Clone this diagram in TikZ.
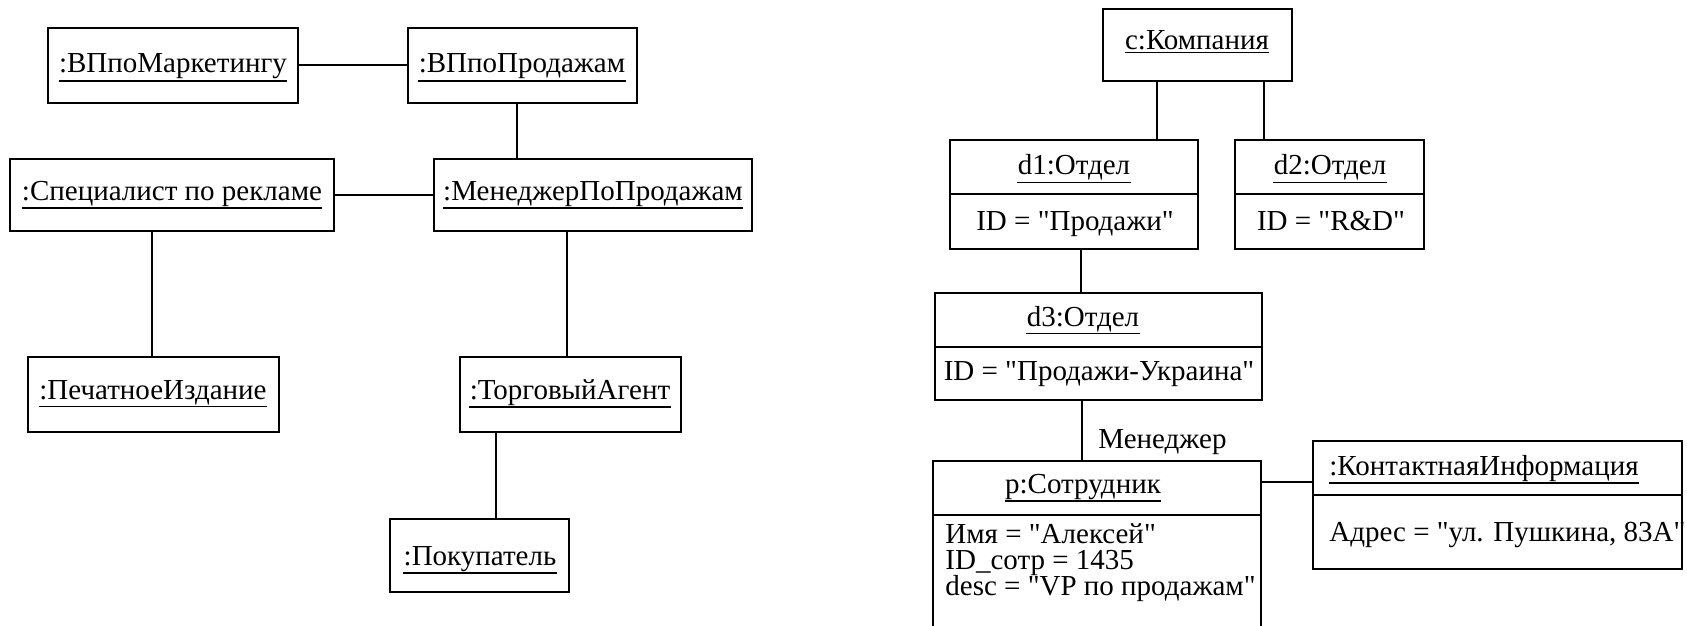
\documentclass[tikz,border=0pt]{standalone}
\usepackage{fontspec}
\setmainfont{Liberation Serif}[Ligatures=TeXOff]
\usetikzlibrary{fit}

\newcommand\objfont{\fontsize{14.5pt}{17pt}\selectfont}

\tikzset{
  obj/.style={draw, line width=1pt, inner sep=0pt},
  lbl/.style={inner sep=0pt, font=\objfont, anchor=base},
  lblw/.style={inner sep=0pt, font=\objfont, anchor=base west},
  link/.style={line width=1pt},
  uline/.style={line width=0.8pt},
}

% underlined object name: [style]{node name}{x,y}{text}
\newcommand\objtitle[4][lbl]{%
  \node[#1] (#2) at (#3) {#4};
  \draw[uline] ([yshift=-0.8pt]#2.south west) -- ([yshift=-0.8pt]#2.south east);}

\begin{document}
\begin{tikzpicture}[x=0.5pt, y=-0.5pt]
  \useasboundingbox (0,0) rectangle (1687,626);
  \fill[white] (0,0) rectangle (1687,626);
  \clip (0,0) rectangle (1687,626);

  % ---------- sales organisation ----------
  \node[obj, fit={(48,28) (298,103)}] (vpm) {};
  \objtitle{vpmT}{173,73}{:ВПпоМаркетингу}
  \node[obj, fit={(408,28) (637,103)}] (vps) {};
  \objtitle{vpsT}{522,73}{:ВПпоПродажам}
  \node[obj, fit={(10,159) (334,231)}] (spec) {};
  \objtitle{specT}{172,200}{:Специалист по рекламе}
  \node[obj, fit={(434,159) (752,231)}] (mgr) {};
  \objtitle{mgrT}{593,200}{:МенеджерПоПродажам}
  \node[obj, fit={(28,357) (279,432)}] (print) {};
  \objtitle{printT}{153,399}{:ПечатноеИздание}
  \node[obj, fit={(460,357) (681,432)}] (agent) {};
  \objtitle{agentT}{570,399}{:ТорговыйАгент}
  \node[obj, fit={(390,519) (569,592)}] (buyer) {};
  \objtitle{buyerT}{480,565}{:Покупатель}

  \coordinate (xa) at (517,0);
  \coordinate (xb) at (152,0);
  \coordinate (xc) at (567,0);
  \coordinate (xd) at (496,0);
  \draw[link] (vpm) -- (vps);
  \draw[link] (spec) -- (mgr);
  \draw[link] (vps.south -| xa) -- (mgr.north -| xa);
  \draw[link] (spec.south -| xb) -- (print.north -| xb);
  \draw[link] (mgr.south -| xc) -- (agent.north -| xc);
  \draw[link] (agent.south -| xd) -- (buyer.north -| xd);

  % ---------- company structure ----------
  \node[obj, fit={(1103,9) (1292,81)}] (comp) {};
  \objtitle{compT}{1197,50}{c:Компания}

  \node[obj, fit={(950,140) (1198,249)}] (d1) {};
  \coordinate (d1div) at (0,194);
  \draw[link] (d1.west |- d1div) -- (d1.east |- d1div);
  \objtitle{d1T}{1074,175}{d1:Отдел}
  \node[lbl] (d1A) at (1075,230) {ID = "Продажи"};

  \node[obj, fit={(1235,140) (1424,249)}] (d2) {};
  \coordinate (d2div) at (0,194);
  \draw[link] (d2.west |- d2div) -- (d2.east |- d2div);
  \objtitle{d2T}{1330,175}{d2:Отдел}
  \node[lbl] (d2A) at (1331,230) {ID = "R\&D"};

  \node[obj, fit={(935,293) (1262,400)}] (d3) {};
  \coordinate (d3div) at (0,347);
  \draw[link] (d3.west |- d3div) -- (d3.east |- d3div);
  \objtitle{d3T}{1083,326}{d3:Отдел}
  \node[lbl] (d3A) at (1099,380) {ID = "Продажи-Украина"};

  \node[obj, fit={(933,461) (1261,660)}] (emp) {};
  \coordinate (empdiv) at (0,515);
  \draw[link] (emp.west |- empdiv) -- (emp.east |- empdiv);
  \objtitle{empT}{1083,493}{p:Сотрудник}
  \node[lblw] (empA) at (945,543) {Имя = "Алексей"};
  \node[lblw] (empB) at (945,569) {ID\_сотр = 1435};
  \node[lblw] (empC) at (945,595) {desc = "VP по продажам"};

  \node[obj, fit={(1313,441) (1682,569)}] (info) {};
  \coordinate (infodiv) at (0,495);
  \draw[link] (info.west |- infodiv) -- (info.east |- infodiv);
  \objtitle[lblw]{infoT}{1329,475}{:КонтактнаяИнформация}
  \node[lblw] (infoA) at (1329,541) {Адрес = "ул. Пушкина, 83А"};

  \coordinate (xe) at (1157,0);
  \coordinate (xf) at (1264,0);
  \coordinate (xg) at (1081,0);
  \coordinate (xh) at (1082,0);
  \coordinate (yi) at (0,482);
  \draw[link] (comp.south -| xe) -- (d1.north -| xe);
  \draw[link] (comp.south -| xf) -- (d2.north -| xf);
  \draw[link] (d1.south -| xg) -- (d3.north -| xg);
  \draw[link] (d3.south -| xh) -- (emp.north -| xh);
  \node[lblw] (role) at (1098,448) {Менеджер};
  \draw[link] (emp.east |- yi) -- (info.west |- yi);
\end{tikzpicture}
\end{document}
